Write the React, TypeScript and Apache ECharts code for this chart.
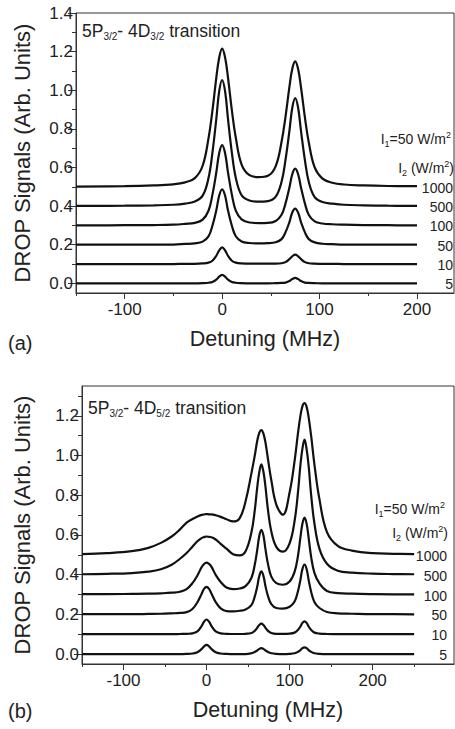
import React, { useEffect, useRef } from 'react';
import * as echarts from 'echarts';

const FONT = '"Liberation Sans", Arial, Helvetica, sans-serif';
const TXT = '#222';
const AX = '#333';

// ---------- panel (a): 5P3/2 - 4D3/2 ----------
const xA = [-150, -100, -70, -50, -38, -28, -20, -14, -10, -6, -3, 0, 3, 6, 10, 14, 20, 28, 37.5, 47, 55, 61, 65, 69, 72, 75, 78, 81, 85, 89, 95, 103, 113, 125, 145, 170, 200];
const a5 = [0, 0, 0, 0, 0, 0, 0.001, 0.003, 0.007, 0.019, 0.035, 0.044, 0.035, 0.019, 0.007, 0.003, 0.001, 0, 0, 0, 0.001, 0.002, 0.004, 0.012, 0.022, 0.028, 0.022, 0.012, 0.004, 0.002, 0.001, 0, 0, 0, 0, 0, 0];
const a10 = [0.1, 0.1, 0.1, 0.1, 0.101, 0.101, 0.103, 0.107, 0.117, 0.143, 0.171, 0.186, 0.171, 0.143, 0.117, 0.107, 0.103, 0.102, 0.102, 0.102, 0.102, 0.104, 0.11, 0.125, 0.14, 0.149, 0.14, 0.125, 0.11, 0.104, 0.102, 0.101, 0.101, 0.1, 0.1, 0.1, 0.1];
const a50 = [0.2, 0.2, 0.201, 0.201, 0.204, 0.207, 0.216, 0.243, 0.298, 0.378, 0.455, 0.487, 0.455, 0.378, 0.298, 0.244, 0.217, 0.209, 0.207, 0.208, 0.213, 0.229, 0.264, 0.316, 0.367, 0.387, 0.366, 0.316, 0.264, 0.229, 0.212, 0.205, 0.203, 0.201, 0.201, 0.2, 0.2];
const a100 = [0.3, 0.301, 0.302, 0.304, 0.308, 0.313, 0.33, 0.376, 0.458, 0.574, 0.675, 0.716, 0.675, 0.575, 0.459, 0.377, 0.331, 0.315, 0.312, 0.313, 0.323, 0.355, 0.413, 0.495, 0.565, 0.594, 0.565, 0.495, 0.413, 0.354, 0.321, 0.31, 0.306, 0.304, 0.302, 0.301, 0.3];
const a500 = [0.401, 0.402, 0.404, 0.407, 0.413, 0.424, 0.454, 0.545, 0.675, 0.851, 0.995, 1.053, 0.995, 0.852, 0.676, 0.547, 0.456, 0.429, 0.423, 0.426, 0.449, 0.526, 0.638, 0.787, 0.909, 0.959, 0.909, 0.787, 0.637, 0.524, 0.446, 0.421, 0.413, 0.407, 0.404, 0.402, 0.401];
const a1000 = [0.501, 0.503, 0.507, 0.513, 0.523, 0.545, 0.609, 0.751, 0.893, 1.064, 1.17, 1.216, 1.171, 1.066, 0.896, 0.755, 0.615, 0.56, 0.55, 0.557, 0.607, 0.733, 0.861, 1.015, 1.111, 1.15, 1.11, 1.013, 0.858, 0.728, 0.6, 0.542, 0.521, 0.512, 0.507, 0.504, 0.503];

// ---------- panel (b): 5P3/2 - 4D5/2 ----------
const xB = [-150, -120, -90, -70, -55, -42, -32, -24, -17, -11, -6, -3, 0, 3, 6, 11, 17, 24, 32, 40, 47, 54, 58, 61, 63.5, 66, 68.5, 71, 74, 78, 84, 92, 100, 106, 110, 113, 115.5, 118, 120.5, 123, 126, 130, 136, 145, 158, 175, 200, 225, 250];
const b5 = [0, 0, 0, 0, 0, 0, 0, 0.001, 0.003, 0.009, 0.025, 0.039, 0.046, 0.039, 0.025, 0.009, 0.003, 0.001, 0, 0, 0, 0.004, 0.01, 0.018, 0.026, 0.03, 0.026, 0.018, 0.01, 0.004, 0.001, 0, 0.001, 0.004, 0.011, 0.02, 0.03, 0.034, 0.03, 0.02, 0.011, 0.004, 0.001, 0, 0, 0, 0, 0, 0];
const b10 = [0.1, 0.1, 0.1, 0.1, 0.1, 0.1, 0.101, 0.102, 0.104, 0.114, 0.141, 0.163, 0.174, 0.163, 0.141, 0.114, 0.104, 0.102, 0.101, 0.101, 0.102, 0.106, 0.117, 0.132, 0.146, 0.153, 0.146, 0.132, 0.117, 0.106, 0.102, 0.102, 0.103, 0.108, 0.121, 0.139, 0.157, 0.165, 0.157, 0.139, 0.121, 0.108, 0.103, 0.101, 0.1, 0.1, 0.1, 0.1, 0.1];
const b50 = [0.201, 0.201, 0.201, 0.202, 0.203, 0.205, 0.207, 0.211, 0.227, 0.261, 0.303, 0.328, 0.338, 0.328, 0.304, 0.262, 0.23, 0.216, 0.215, 0.218, 0.225, 0.247, 0.289, 0.339, 0.393, 0.416, 0.394, 0.341, 0.292, 0.251, 0.232, 0.229, 0.238, 0.265, 0.315, 0.373, 0.429, 0.451, 0.428, 0.372, 0.313, 0.261, 0.232, 0.212, 0.205, 0.203, 0.201, 0.201, 0.2];
const b100 = [0.302, 0.302, 0.303, 0.304, 0.306, 0.309, 0.314, 0.327, 0.357, 0.396, 0.437, 0.454, 0.461, 0.454, 0.439, 0.399, 0.363, 0.335, 0.327, 0.33, 0.342, 0.383, 0.449, 0.524, 0.595, 0.626, 0.597, 0.527, 0.453, 0.39, 0.357, 0.349, 0.365, 0.414, 0.492, 0.586, 0.658, 0.687, 0.657, 0.583, 0.488, 0.408, 0.356, 0.318, 0.307, 0.304, 0.302, 0.301, 0.301];
const b500 = [0.402, 0.404, 0.408, 0.415, 0.427, 0.45, 0.48, 0.509, 0.541, 0.568, 0.584, 0.589, 0.592, 0.59, 0.588, 0.577, 0.555, 0.531, 0.503, 0.497, 0.518, 0.612, 0.722, 0.838, 0.916, 0.955, 0.918, 0.841, 0.725, 0.617, 0.54, 0.516, 0.558, 0.67, 0.81, 0.95, 1.036, 1.08, 1.032, 0.945, 0.799, 0.655, 0.53, 0.455, 0.42, 0.41, 0.405, 0.403, 0.402];
const b1000 = [0.503, 0.508, 0.518, 0.535, 0.56, 0.592, 0.628, 0.662, 0.68, 0.693, 0.701, 0.703, 0.705, 0.704, 0.704, 0.699, 0.691, 0.679, 0.668, 0.685, 0.77, 0.91, 0.998, 1.073, 1.114, 1.128, 1.11, 1.064, 0.981, 0.875, 0.753, 0.702, 0.814, 0.972, 1.109, 1.198, 1.249, 1.264, 1.245, 1.191, 1.097, 0.952, 0.779, 0.614, 0.545, 0.521, 0.508, 0.505, 0.503];

const curveNames = ['5', '10', '50', '100', '500', '1000'];
const curveOffsets = [0, 0.1, 0.2, 0.3, 0.4, 0.5];
const seriesA = [a5, a10, a50, a100, a500, a1000];
const seriesB = [b5, b10, b50, b100, b500, b1000];

const xMajor = [-100, 0, 100, 200];
const xMinorA = [-150, -50, 50, 150];
const xMinorB = [-150, -50, 50, 150, 250];
const yMajorA = [0, 0.2, 0.4, 0.6, 0.8, 1.0, 1.2, 1.4];
const yMinorA = [0.1, 0.3, 0.5, 0.7, 0.9, 1.1, 1.3];
const yMajorB = [0, 0.2, 0.4, 0.6, 0.8, 1.0, 1.2];
const yMinorB = [0.1, 0.3, 0.5, 0.7, 0.9, 1.1, 1.3];

function majorX(gridIndex: number, max: number) {
  return {
    type: 'value', gridIndex, min: -150, max, position: 'bottom',
    axisLine: { show: true, onZero: false, lineStyle: { color: AX, width: 1 } },
    axisTick: { show: true, customValues: xMajor, length: 6, lineStyle: { color: AX, width: 1 } },
    axisLabel: { show: true, customValues: xMajor, fontSize: 17, margin: 8, color: TXT, fontFamily: FONT },
    splitLine: { show: false },
    name: 'Detuning (MHz)', nameLocation: 'middle', nameGap: 35,
    nameTextStyle: { fontSize: 21.5, color: TXT, fontFamily: FONT },
  };
}
function minorX(gridIndex: number, max: number, vals: number[]) {
  return {
    type: 'value', gridIndex, min: -150, max, position: 'bottom',
    axisLine: { show: false, onZero: false },
    axisTick: { show: true, customValues: vals, length: 3, lineStyle: { color: AX, width: 1 } },
    axisLabel: { show: false },
    splitLine: { show: false },
  };
}
function majorY(gridIndex: number, max: number, vals: number[], gap: number) {
  return {
    type: 'value', gridIndex, min: -0.05, max, position: 'left',
    axisLine: { show: true, onZero: false, lineStyle: { color: AX, width: 1 } },
    axisTick: { show: true, customValues: vals, length: 8, lineStyle: { color: AX, width: 1 } },
    axisLabel: {
      show: true, customValues: vals, fontSize: 17, margin: 3, color: TXT, fontFamily: FONT,
      formatter: (v: number) => v.toFixed(1),
    },
    splitLine: { show: false },
    name: 'DROP Signals (Arb. Units)', nameLocation: 'middle', nameGap: gap, nameRotate: 90,
    nameTextStyle: { fontSize: 22, color: TXT, fontFamily: FONT },
  };
}
function minorY(gridIndex: number, max: number, vals: number[]) {
  return {
    type: 'value', gridIndex, min: -0.05, max, position: 'left',
    axisLine: { show: false, onZero: false },
    axisTick: { show: true, customValues: vals, length: 4, lineStyle: { color: AX, width: 1 } },
    axisLabel: { show: false },
    splitLine: { show: false },
  };
}

function makeSeries(xs: number[], ys: number[][], axisIdx: number) {
  return ys.map((arr, k) => ({
    type: 'line',
    name: curveNames[k],
    xAxisIndex: axisIdx,
    yAxisIndex: axisIdx,
    data: xs.map((x, i) => [x, arr[i]]),
    showSymbol: false,
    symbol: 'none',
    smooth: 0.4,
    lineStyle: { color: '#111', width: 2.2 },
    silent: true,
  }));
}

export default function App() {
  const ref = useRef<HTMLDivElement>(null);
  useEffect(() => {
    const chart = echarts.init(ref.current!, undefined, { renderer: 'svg' });
    chart.setOption({
      animation: false,
      backgroundColor: '#fff',
      textStyle: { fontFamily: FONT },
      grid: [
        { left: 76, top: 13, width: 378, height: 280, show: true, borderColor: AX, borderWidth: 1, containLabel: false },
        { left: 82, top: 386, width: 372, height: 278, show: true, borderColor: AX, borderWidth: 1, containLabel: false },
      ],
      xAxis: [majorX(0, 238), minorX(0, 238, xMinorA), majorX(1, 298), minorX(1, 298, xMinorB)],
      yAxis: [majorY(0, 1.4, yMajorA, 43), minorY(0, 1.4, yMinorA), majorY(1, 1.35, yMajorB, 49), minorY(1, 1.35, yMinorB)],
      series: [...makeSeries(xA, seriesA, 0), ...makeSeries(xB, seriesB, 2)],
    });

    const pxA = (x: number, y: number) => chart.convertToPixel({ xAxisIndex: 0, yAxisIndex: 0 }, [x, y]) as number[];
    const pxB = (x: number, y: number) => chart.convertToPixel({ xAxisIndex: 2, yAxisIndex: 2 }, [x, y]) as number[];

    const graphics: any[] = [];
    const richMain = (fs: number, lh: number) => ({ fontSize: fs, lineHeight: lh, verticalAlign: 'middle', fontFamily: FONT, fill: TXT });
    const richSub = (fs: number, lh: number) => ({ fontSize: fs, lineHeight: lh, verticalAlign: 'bottom', fontFamily: FONT, fill: TXT });
    const richSup = (fs: number, lh: number) => ({ fontSize: fs, lineHeight: lh, verticalAlign: 'top', fontFamily: FONT, fill: TXT });

    const addPanelTexts = (
      px: (x: number, y: number) => number[], xMax: number, labelRight: number, j: string,
      titleY: number, i1y: number, i2y: number, panel: string, panelY: number,
    ) => {
      const tl = px(-150, 0);
      graphics.push({
        type: 'text', x: tl[0] + 6, y: titleY, silent: true,
        style: {
          text: '{m|5P}{s|3/2}{m|- 4D}{s|' + j + '}{m| transition}',
          align: 'left', verticalAlign: 'middle', fill: TXT,
          rich: { m: richMain(17.5, 20), s: richSub(10, 10) },
        },
      });
      curveOffsets.forEach((off, k) => {
        const p = px(xMax, off);
        graphics.push({
          type: 'text', x: labelRight, y: p[1] + 1, silent: true,
          style: { text: curveNames[k], align: 'right', verticalAlign: 'middle', fontSize: 14, fontFamily: FONT, fill: TXT },
        });
      });
      graphics.push({
        type: 'text', x: labelRight - 2, y: i1y, silent: true,
        style: {
          text: '{m|I}{s|1}{m|=50 W/m}{p|2}', align: 'right', verticalAlign: 'middle', fill: TXT,
          rich: { m: richMain(14, 18), s: richSub(9, 9), p: richSup(9, 9) },
        },
      });
      graphics.push({
        type: 'text', x: labelRight + 1, y: i2y, silent: true,
        style: {
          text: '{m|I}{s|2}{m| (W/m}{p|2}{m|)}', align: 'right', verticalAlign: 'middle', fill: TXT,
          rich: { m: richMain(14, 18), s: richSub(9, 9), p: richSup(9, 9) },
        },
      });
      graphics.push({
        type: 'text', x: 8, y: panelY, silent: true,
        style: { text: panel, align: 'left', verticalAlign: 'middle', fontSize: 20, fontFamily: FONT, fill: TXT },
      });
    };

    addPanelTexts(pxA, 238, 453, '3/2', 31, 139, 168, '(a)', 343);
    addPanelTexts(pxB, 298, 447, '5/2', 408, 509, 533, '(b)', 711);

    chart.setOption({ graphic: graphics });
    return () => chart.dispose();
  }, []);
  return <div ref={ref} style={{ position: 'fixed', left: 0, top: 0, width: 455, height: 729, background: '#fff' }} />;
}
